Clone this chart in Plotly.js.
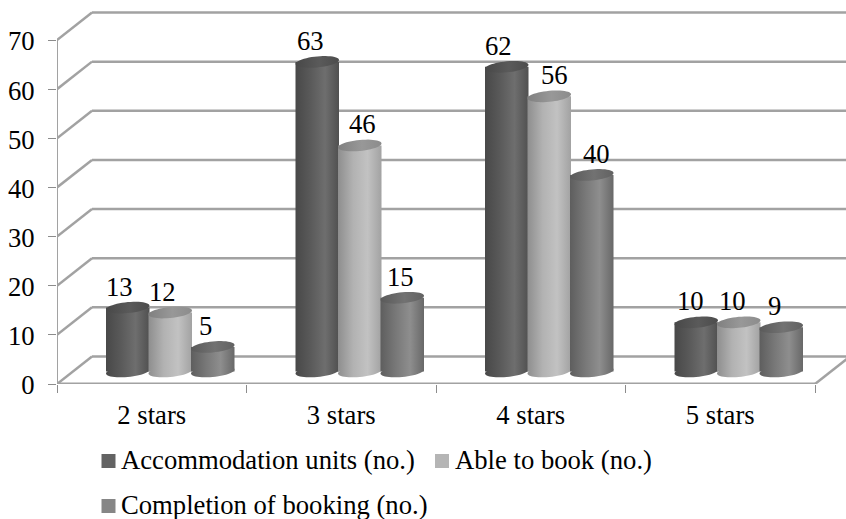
<!DOCTYPE html>
<html>
<head>
<meta charset="utf-8">
<script src="https://cdn.plot.ly/plotly-3.0.1.min.js"></script>
<style>
  html, body { margin: 0; padding: 0; background: #fff; }
  #chart { width: 846px; height: 519px; }
</style>
</head>
<body>
<div id="chart"></div>
<script>
// Booking outcomes by hotel class
const categories = ['2 stars', '3 stars', '4 stars', '5 stars'];
const accommodationUnits = [13, 63, 62, 10];
const ableToBook = [12, 46, 56, 10];
const completionOfBooking = [5, 15, 40, 9];
const valueTicks = [0, 10, 20, 30, 40, 50, 60, 70];

// Horizontal pixel nudges that keep the data labels clear of neighbouring columns
const labelNudge = [[-8, -7, -8, -6], [-8, 3, 5, -6], [-7, -2, 5, -7]];

const seriesList = [
  { name: 'Accommodation units (no.)', values: accommodationUnits,
    body: ['#484848', '#5a5a5a', '#6e6e6e', '#505050'], cap: ['#484848', '#5a5a5a', '#4c4c4c'], swatch: '#636363' },
  { name: 'Able to book (no.)', values: ableToBook,
    body: ['#8e8e8e', '#b2b2b2', '#c2c2c2', '#a2a2a2'], cap: ['#808080', '#989898', '#8c8c8c'], swatch: '#b5b5b5' },
  { name: 'Completion of booking (no.)', values: completionOfBooking,
    body: ['#5e5e5e', '#787878', '#8e8e8e', '#686868'], cap: ['#5a5a5a', '#727272', '#626262'], swatch: '#868686' }
];

// Plot frame and pseudo-3D depth, in axis units
const plotLeft = 57, plotBottom = 384, pxPerCat = 189.5, pxPerVal = 4.914;
const xMin = -0.5, xMax = xMin + (846 - plotLeft) / pxPerCat, yMax = plotBottom / pxPerVal;
const backDx = 35 / pxPerCat, backDy = 5.6;
const midDx = 18.5 / pxPerCat, midDy = 12.5 / pxPerVal;
const barWidth = 43.5 / pxPerCat, barStep = 42.5 / pxPerCat;
const capRx = barWidth / 2, capRy = 5.5 / pxPerVal, capTilt = 2 / pxPerVal;

const axisGrey = '#a2a2a2';
const serif = '"Liberation Serif", "Times New Roman", serif';
const textSize = 26.67;

const shapes = [];
const fillFor = {}; // shape index -> gradient id

function line(x0, y0, x1, y1, width) {
  shapes.push({ type: 'line', layer: 'below', xref: 'x', yref: 'y', x0, y0, x1, y1,
    line: { color: axisGrey, width: width || 2.5 } });
}

function ellipsePath(cx, cy) {
  const parts = [];
  for (let k = 0; k < 48; k++) {
    const t = 2 * Math.PI * k / 48;
    const px = cx + capRx * Math.cos(t);
    const py = cy + capRy * Math.sin(t) + capTilt * Math.cos(t);
    parts.push((k ? 'L' : 'M') + px.toFixed(4) + ',' + py.toFixed(3));
  }
  return parts.join(' ') + ' Z';
}

function ellipse(cx, cy, layer, color, gradientId) {
  fillFor[shapes.length] = gradientId;
  shapes.push({ type: 'path', layer, xref: 'x', yref: 'y', path: ellipsePath(cx, cy),
    fillcolor: color, line: { width: 0 } });
}

// Back wall gridlines with their diagonals, and the floor edges
valueTicks.forEach(v => {
  line(xMin, v, xMin + backDx, v + backDy);
  line(xMin + backDx, v + backDy, xMax, v + backDy);
});
line(xMin, 0, xMin, 70, 2);
line(xMin + 4, 0, xMin + 4 + backDx, backDy);
line(xMin, 0.05, xMin + 4, 0.05);

const annotations = [];
const traces = [];

seriesList.forEach((s, i) => {
  const offset = midDx + (i - 1) * barStep - barWidth / 2;
  traces.push({
    type: 'bar', name: s.name, x: categories, y: s.values,
    base: s.values.map(() => midDy), width: barWidth, offset,
    marker: { color: s.swatch, line: { width: 0 } }, hoverinfo: 'skip', showlegend: false
  });
  s.values.forEach((v, c) => {
    const cx = c + midDx + (i - 1) * barStep;
    ellipse(cx, midDy, 'below', s.body[1], 'body' + i);
    ellipse(cx, v + midDy, 'above', s.cap[1], 'cap' + i);
    annotations.push({
      xref: 'x', yref: 'y', x: cx, y: v + midDy, text: String(v), showarrow: false,
      xanchor: 'center', yanchor: 'middle', yshift: 21, xshift: labelNudge[i][c],
      font: { family: serif, size: textSize, color: '#000' }
    });
  });
});

// Key below the axis
const toPaperX = px => (px - plotLeft) / (846 - plotLeft);
const toPaperY = py => (plotBottom - py) / plotBottom;
const keyRows = [
  { swatchX: 101.5, textX: 119, rowY: 461, series: 0 },
  { swatchX: 435, textX: 453, rowY: 461, series: 1 },
  { swatchX: 101.5, textX: 119, rowY: 506, series: 2 }
];
keyRows.forEach(k => {
  shapes.push({ type: 'rect', xref: 'paper', yref: 'paper', layer: 'above',
    x0: toPaperX(k.swatchX), x1: toPaperX(k.swatchX + 14),
    y0: toPaperY(k.rowY + 7), y1: toPaperY(k.rowY - 7),
    fillcolor: seriesList[k.series].swatch, line: { width: 0 } });
  annotations.push({ xref: 'paper', yref: 'paper', x: toPaperX(k.textX), y: toPaperY(k.rowY - 1),
    text: seriesList[k.series].name, showarrow: false, xanchor: 'left', yanchor: 'middle',
    font: { family: serif, size: textSize, color: '#000' } });
});

const layout = {
  width: 846, height: 519, showlegend: false, barmode: 'overlay',
  paper_bgcolor: '#fff', plot_bgcolor: 'rgba(0,0,0,0)',
  margin: { l: plotLeft, r: 0, t: 0, b: 519 - plotBottom, pad: 0 },
  font: { family: serif, size: textSize, color: '#000' },
  xaxis: {
    type: 'category', categoryorder: 'array', categoryarray: categories,
    range: [xMin, xMax], tickson: 'boundaries', ticks: 'outside', ticklen: 8, tickwidth: 1,
    tickcolor: '#8c8c8c', showline: false, showgrid: false, zeroline: false,
    tickfont: { family: serif, size: textSize, color: '#000' }, ticklabelstandoff: 12
  },
  yaxis: {
    range: [0, yMax], tickmode: 'array', tickvals: valueTicks, ticktext: valueTicks.map(String),
    ticks: 'outside', ticklen: 8, tickwidth: 1, tickcolor: '#8c8c8c', showline: false,
    showgrid: false, zeroline: false, tickfont: { family: serif, size: textSize, color: '#000' },
    ticklabelstandoff: 8, ticklabelshift: 1
  },
  shapes, annotations
};

function addGradient(defs, id, stops) {
  const ns = 'http://www.w3.org/2000/svg';
  const g = document.createElementNS(ns, 'linearGradient');
  g.setAttribute('id', id);
  g.setAttribute('x1', '0'); g.setAttribute('x2', '1'); g.setAttribute('y1', '0'); g.setAttribute('y2', '0');
  stops.forEach(([o, c]) => {
    const st = document.createElementNS(ns, 'stop');
    st.setAttribute('offset', o); st.setAttribute('stop-color', c);
    g.appendChild(st);
  });
  defs.appendChild(g);
}

Plotly.newPlot('chart', traces, layout, { staticPlot: true, displayModeBar: false }).then(gd => {
  // Cylinder shading: plotly has no gradient fill for bars, so it goes on the drawn paths
  const defs = gd.querySelector('svg.main-svg defs');
  seriesList.forEach((s, i) => {
    addGradient(defs, 'body' + i, [[0, s.body[0]], [0.35, s.body[1]], [0.68, s.body[2]], [1, s.body[3]]]);
    addGradient(defs, 'cap' + i, [[0, s.cap[0]], [0.55, s.cap[1]], [1, s.cap[2]]]);
  });
  gd.querySelectorAll('.barlayer .trace').forEach((tr, i) => {
    tr.querySelectorAll('.point path').forEach(p => { p.style.fill = 'url(#body' + i + ')'; });
  });
  Object.keys(fillFor).forEach(idx => {
    gd.querySelectorAll('.shapelayer path[data-index="' + idx + '"]').forEach(p => {
      p.style.fill = 'url(#' + fillFor[idx] + ')';
    });
  });
});
</script>
</body>
</html>
